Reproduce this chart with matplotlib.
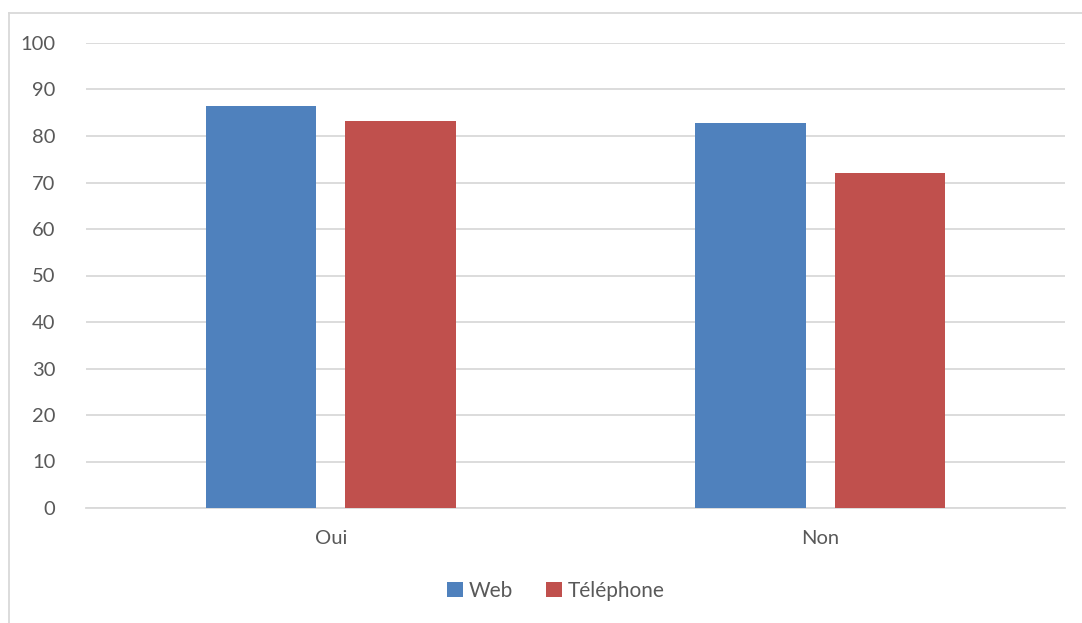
import numpy as np
import matplotlib.pyplot as plt
from matplotlib.lines import Line2D

# ---------------------- Data

categories = ['Oui', 'Non']
web = [86.4, 82.7]
telephone = [83.2, 72.1]
series_names = ['Web', 'Téléphone']

# ---------------------- Style

plt.rcParams['font.family'] = ['Lato', 'DejaVu Sans']
colorBlue = '#4F81BD'
colorRed = '#C0504D'
textColor = '#595959'
gridColor = '#D9D9D9'

W, H = 1082, 623
fig = plt.figure(figsize=(W / 100, H / 100), dpi=100)
ax = fig.add_axes([86 / W, 1 - 508 / H, (1065 - 86) / W, (508 - 43) / H])

x = np.arange(len(categories))
barWidth = 0.225
offset = 0.1425

ax.bar(x - offset, web, barWidth, color=colorBlue, label=series_names[0], zorder=3)
ax.bar(x + offset, telephone, barWidth, color=colorRed, label=series_names[1], zorder=3)

ax.set_xlim(-0.5, 1.5)
ax.set_ylim(0, 100)
ax.set_yticks(np.arange(0, 101, 10))
ax.set_xticks(x)
ax.set_xticklabels(categories)

ax.yaxis.grid(True, color=gridColor, linewidth=1.3, zorder=0)
for side in ['top', 'right', 'left']:
    ax.spines[side].set_visible(False)
ax.spines['bottom'].set_color(gridColor)
ax.spines['bottom'].set_linewidth(1.3)
ax.tick_params(axis='both', length=0, labelsize=14.5, colors=textColor)
ax.tick_params(axis='y', pad=22)
ax.tick_params(axis='x', pad=16)

leg = fig.legend(loc='center', bbox_to_anchor=(556 / W, 1 - 591 / H),
                 ncol=2, frameon=False, fontsize=15,
                 handlelength=0.75, handleheight=0.75, handletextpad=0.3,
                 columnspacing=1.6)
for t in leg.get_texts():
    t.set_color(textColor)

# outer chart border (left and top visible)
bx, by = 8.5 / W, 1 - 12.5 / H
fig.add_artist(Line2D([bx, bx], [0, by], color=gridColor, linewidth=1.3))
fig.add_artist(Line2D([bx, 1], [by, by], color=gridColor, linewidth=1.3))

plt.savefig('out.png', dpi=100)
